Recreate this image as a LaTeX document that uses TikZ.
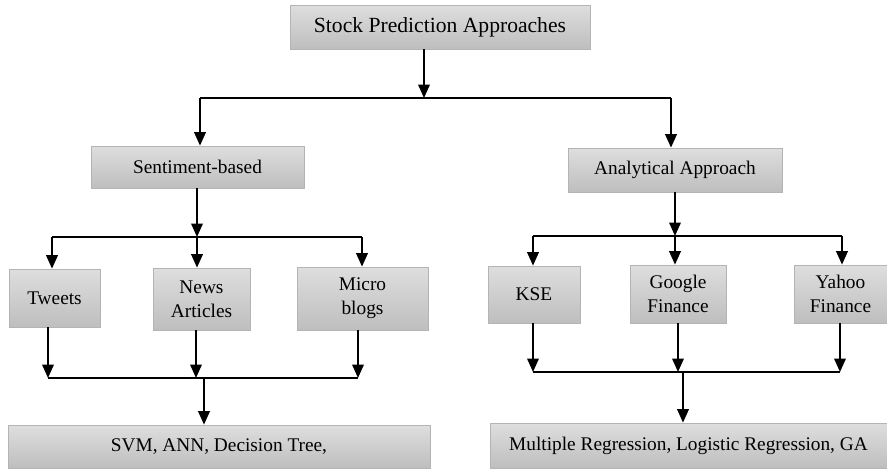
\documentclass[tikz,border=0pt]{standalone}
\usepackage{fontspec}
\setmainfont{Liberation Serif}
\usetikzlibrary{arrows.meta}
\definecolor{boxtop}{HTML}{DEDEDE}
\definecolor{boxbottom}{HTML}{BEBEBE}
\definecolor{boxedge}{HTML}{B4B4B4}

\begin{document}
\begin{tikzpicture}[
    x=0.02cm, y=-0.02cm,
    box/.style 2 args={rectangle, draw=boxedge, top color=boxtop, bottom color=boxbottom,
                  minimum width=#1*0.02cm, minimum height=#2*0.02cm, align=center,
                  inner sep=1pt, font=\fontsize{11}{13.6}\selectfont},
    arr/.style={-{Triangle[length=2.7mm, width=2.3mm]}, line width=1.2pt},
    bus/.style={line width=0.8pt}
]
    \useasboundingbox (0,0) rectangle (887,468);

    \node[box={300}{44}, font=\fontsize{12.3}{15}\selectfont] (top) at (440,27) {Stock Prediction Approaches};
    \node[box={213}{42}] (sent) at (197.5,167) {Sentiment-based};
    \node[box={214}{44}] (anal) at (675,170) {Analytical Approach};

    \node[box={91}{58}] (tw) at (54.5,298) {Tweets};
    \node[box={97}{62}] (news) at (201.5,299) {News\\Articles};
    \node[box={131}{63}] (micro) at (362.5,298.5) {Micro\\blogs};

    \node[box={92}{57}] (kse) at (534,294.5) {KSE};
    \node[box={96}{58}] (goog) at (678,294) {Google\\Finance};
    \node[box={93}{58}] (yahoo) at (840.5,294) {Yahoo\\Finance};

    \node[box={422}{43}] (svm) at (219,446.5) {SVM, ANN, Decision Tree,};
    \node[box={397}{45}] (mult) at (688.5,445.5) {Multiple Regression, Logistic Regression, GA};

    % Top split
    \coordinate (b0) at (424,98);
    \coordinate (b0l) at (200,98);
    \coordinate (b0r) at (671,98);
    \draw[bus] (b0l) -- (b0r);
    \draw[arr] (top.south -| b0) -- (b0);
    \draw[arr] (b0l) -- (b0l |- sent.north);
    \draw[arr] (b0r) -- (b0r |- anal.north);

    % Sentiment sources
    \coordinate (b1) at (197,237);
    \coordinate (b1l) at (52,237);
    \coordinate (b1r) at (362,237);
    \draw[bus] (b1l) -- (b1r);
    \draw[arr] (sent.south -| b1) -- (b1);
    \draw[arr] (b1l) -- (b1l |- tw.north);
    \draw[arr] (b1) -- (b1 |- news.north);
    \draw[arr] (b1r) -- (b1r |- micro.north);

    % Analytical sources
    \coordinate (b2) at (675,236);
    \coordinate (b2l) at (533,236);
    \coordinate (b2r) at (842,236);
    \draw[bus] (b2l) -- (b2r);
    \draw[arr] (anal.south -| b2) -- (b2);
    \draw[arr] (b2l) -- (b2l |- kse.north);
    \draw[arr] (b2) -- (b2 |- goog.north);
    \draw[arr] (b2r) -- (b2r |- yahoo.north);

    % Merge left
    \coordinate (c1) at (204,378);
    \coordinate (c1l) at (48,378);
    \coordinate (c1m) at (196,378);
    \coordinate (c1r) at (358,378);
    \draw[arr] (c1l |- tw.south) -- (c1l);
    \draw[arr] (c1m |- news.south) -- (c1m);
    \draw[arr] (c1r |- micro.south) -- (c1r);
    \draw[bus] (c1l) -- (c1r);
    \draw[arr] (c1) -- (c1 |- svm.north);

    % Merge right
    \coordinate (c2) at (683,372);
    \coordinate (c2l) at (533,372);
    \coordinate (c2r) at (840,372);
    \draw[arr] (c2l |- kse.south) -- (c2l);
    \draw[arr] (goog.south) -- (goog.south |- c2);
    \draw[arr] (c2r |- yahoo.south) -- (c2r);
    \draw[bus] (c2l) -- (c2r);
    \draw[arr] (c2) -- (c2 |- mult.north);
\end{tikzpicture}
\end{document}
